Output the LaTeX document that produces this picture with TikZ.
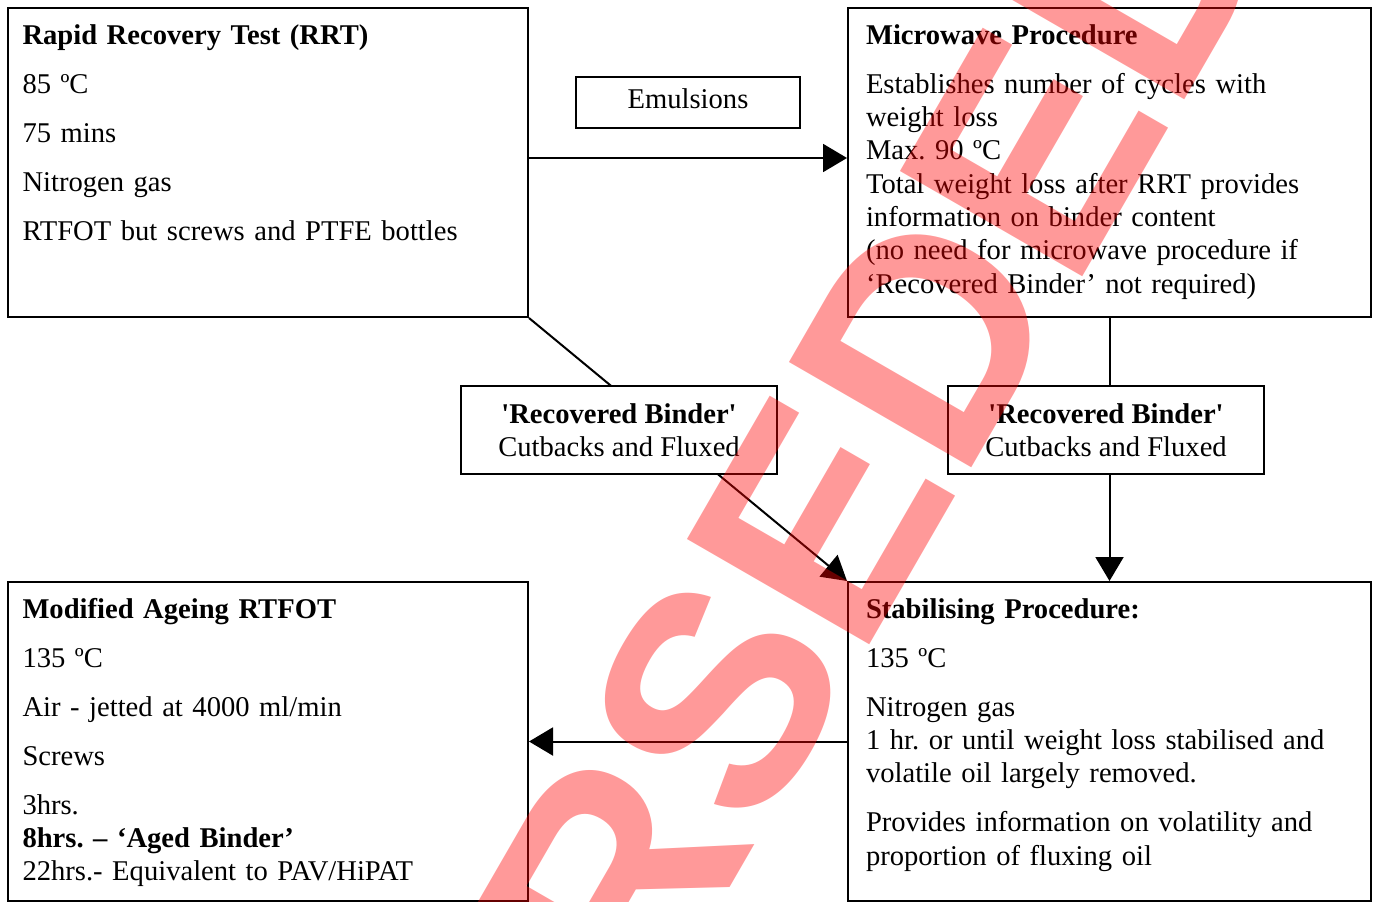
\documentclass[tikz,border=0pt]{standalone}
\usepackage{fontspec}
\setmainfont{Liberation Serif}
\newfontfamily\stampfont{Liberation Sans}
\usetikzlibrary{arrows.meta}
\frenchspacing

\begin{document}
\begin{tikzpicture}[x=1pt, y=1pt, >={Triangle[length=24pt,width=28pt]},
    line width=2pt,
    font=\fontsize{28.6}{33.4}\selectfont,
    panel/.style={draw, fill=white, anchor=north west, align=left,
      inner ysep=0pt, text height=36pt},
    binder/.style={draw, fill=white, align=center, inner sep=0pt,
      minimum width=316pt, minimum height=88pt},
    stamp/.style={text=red, text opacity=0.4, inner sep=0pt,
      font=\stampfont\bfseries\fontsize{306}{306}\selectfont}]
  \useasboundingbox (0,0) rectangle (1374,-902);
  % test boxes
  \node [panel, inner xsep=14.5pt, text width=491pt, text depth=273pt] (rrt) at (7,-7)
    {\textbf{Rapid Recovery Test (RRT)}\\[15.6pt]
     85 ºC\\[15.6pt] 75 mins\\[15.6pt] Nitrogen gas\\[15.6pt]
     RTFOT but screws and PTFE bottles};
  \node [panel, inner xsep=18pt, text width=487pt, text depth=273pt] (mw) at (847,-7)
    {\textbf{Microwave Procedure}\\[15.6pt]
     Establishes number of cycles with\\ weight loss\\ Max. 90 ºC\\
     Total weight loss after RRT provides\\ information on binder content\\
     (no need for microwave procedure if\\ ‘Recovered Binder’ not required)};
  \node [panel, inner xsep=14.5pt, text width=491pt, text depth=283pt] (mod) at (7,-581)
    {\textbf{Modified Ageing RTFOT}\\[15.6pt] 135 ºC\\[15.6pt]
     Air - jetted at 4000 ml/min\\[15.6pt] Screws\\[15.6pt] 3hrs.\\
     \textbf{8hrs. – ‘Aged Binder’}\\ 22hrs.- Equivalent to PAV/HiPAT};
  \node [panel, inner xsep=18pt, text width=487pt, text depth=283pt] (stab) at (847,-581)
    {\textbf{Stabilising Procedure:}\\[15.6pt] 135 ºC\\[15.6pt] Nitrogen gas\\
     1 hr. or until weight loss stabilised and\\ volatile oil largely removed.\\[15.6pt]
     Provides information on volatility and\\ proportion of fluxing oil};
  \node [draw, minimum width=224pt, minimum height=51pt, text depth=7pt] (emul)
    at (688,-102.5) {Emulsions};
  % flow
  \draw [->] ([yshift=4.5pt]rrt.east) -- ([yshift=4.5pt]mw.west);
  \draw [->] (rrt.south east) -- (stab.north west);
  \draw [->] (mw.south) -- (stab.north);
  \draw [->] (stab.west) -- (mod.east);
  \foreach \s/\x in {left/619, right/1106}
    \node [binder] (binder-\s) at (\x,-430)
      {\textbf{\textquotesingle Recovered Binder\textquotesingle}\\ Cutbacks and Fluxed};
  % watermark
  \begin{scope}
    \clip (0,0) rectangle (1374,-902);
    \node [stamp, rotate=60, anchor=base west] (superseded) at (230,-1753) {SUPERSEDED};
  \end{scope}
\end{tikzpicture}
\end{document}
